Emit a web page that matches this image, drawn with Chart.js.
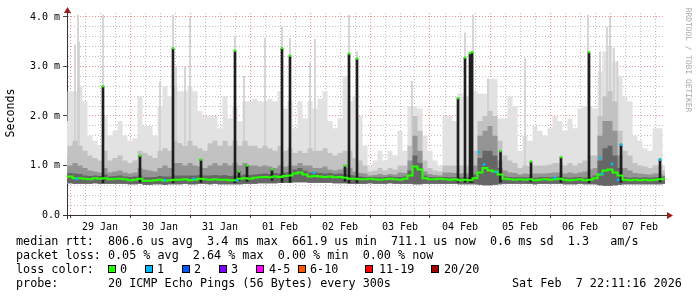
<!DOCTYPE html>
<html>
<head>
<meta charset="utf-8">
<script src="https://cdn.jsdelivr.net/npm/chart.js@4.4.1/dist/chart.umd.min.js"></script>
<style>
html,body{margin:0;padding:0;background:#fff;}
#wrap{position:relative;width:697px;height:297px;overflow:hidden;font-family:"DejaVu Sans Mono",monospace;}
#c{position:absolute;left:0;top:0;}
.t{position:absolute;white-space:pre;font-size:11.75px;line-height:14px;color:#000;}
.sq{position:absolute;width:6px;height:6px;border:1px solid #000;}
#ylab{position:absolute;left:-30px;top:106px;width:80px;height:14px;text-align:center;transform:rotate(-90deg);font-size:11.6px;}
#wm{position:absolute;left:633px;top:55px;width:110px;height:10px;line-height:10px;text-align:center;font-size:7.9px;color:#aaa;transform:rotate(90deg);white-space:pre;}
</style>
</head>
<body>
<div id="wrap">
<canvas id="c" width="697" height="297"></canvas>
<div id="ylab" class="t">Seconds</div>
<div id="wm">RRDTOOL / TOBI OETIKER</div>
<div class="t" style="left:16px;top:234px">median rtt:  806.6 us avg  3.4 ms max  661.9 us min  711.1 us now  0.6 ms sd  1.3   am/s</div>
<div class="t" style="left:16px;top:248px">packet loss: 0.05 % avg  2.64 % max  0.00 % min  0.00 % now</div>
<div class="t" style="left:16px;top:262px">loss color:</div>
<div id="lossLegend"></div>
<div class="t" style="left:16px;top:276px">probe:       20 ICMP Echo Pings (56 Bytes) every 300s</div>
<div class="t" style="left:512px;top:276px">Sat Feb  7 22:11:16 2026</div>
</div>
<script>
// ---- time axis: hours since 29 Jan 00:00 ----
const START_HOUR = -2, STEP_HOURS = 2;          // smoke samples every 2 h
const X_MIN_HOUR = -1.2, X_MAX_HOUR = 238;       // visible range
const Y_MAX = 4.08;                              // ms at top of plot
const dayLabels = ['29 Jan','30 Jan','31 Jan','01 Feb','02 Feb','03 Feb','04 Feb','05 Feb','06 Feb','07 Feb'];
const yTickLabels = ['0.0','1.0 m','2.0 m','3.0 m','4.0 m'];

// ---- loss legend ----
const lossLabels = ['0','1','2','3','4-5','6-10','11-19','20/20'];
const lossColors = ['#26ff00','#00b8ff','#0059ff','#7e00ff','#ff00ff','#ff5500','#ff0000','#a10000'];

// ---- smoke (ms), one value per 2 h sample ----
const pingMin = [
0.64,0.64,0.63,0.63,0.63,0.63,0.64,0.63,0.63,0.63,
0.63,0.63,0.63,0.62,0.62,0.63,0.61,0.61,0.62,0.62,
0.61,0.62,0.62,0.62,0.63,0.62,0.62,0.63,0.63,0.62,
0.63,0.62,0.62,0.62,0.62,0.62,0.63,0.63,0.63,0.64,
0.64,0.64,0.64,0.65,0.65,0.65,0.66,0.66,0.66,0.65,
0.65,0.65,0.65,0.65,0.64,0.64,0.64,0.63,0.63,0.63,
0.63,0.64,0.63,0.63,0.63,0.64,0.63,0.63,0.63,0.63,
0.62,0.62,0.63,0.63,0.63,0.63,0.63,0.63,0.63,0.62,
0.62,0.62,0.62,0.61,0.60,0.60,0.61,0.62,0.63,0.63,
0.63,0.63,0.63,0.63,0.62,0.63,0.63,0.63,0.63,0.63,
0.62,0.62,0.62,0.63,0.62,0.62,0.62,0.60,0.59,0.59,
0.60,0.61,0.62,0.62,0.62,0.62,0.62,0.62,0.62,0.62,
0.63];
const smokeMax = [
1.9,2.5,2.5,2.6,2.3,1.6,1.5,1.4,2.0,1.6,
1.7,1.9,1.6,1.5,1.55,2.4,1.8,1.8,1.6,2.2,
2.6,2.4,2.6,2.5,2.5,2.6,2.5,2.1,2.0,2.0,
2.0,1.75,2.4,1.95,2.2,1.9,2.3,2.3,2.35,2.3,
2.3,2.35,2.3,2.5,2.15,2.3,1.75,2.3,1.95,2.3,
2.15,2.35,2.5,1.9,1.75,1.95,2.8,2.3,2.4,2.0,
1.4,1.0,1.1,1.3,1.1,1.3,1.2,1.7,1.3,2.2,
2.2,2.15,1.6,1.3,1.1,1.0,2.0,2.0,1.9,2.46,
2.4,2.4,2.5,2.45,2.45,2.75,2.75,1.95,1.95,2.4,
2.2,1.3,1.6,1.5,1.8,1.7,1.6,1.75,2.0,1.9,
1.7,1.95,1.75,2.15,2.2,2.2,2.15,2.9,3.3,3.4,
3.1,2.8,2.4,2.3,1.6,1.5,1.35,1.3,1.75,1.75,
1.0];
const smokeMid = [
1.20,1.40,1.50,1.40,1.30,1.20,1.15,1.10,1.30,1.10,
1.15,1.20,1.10,1.05,1.10,1.30,1.25,1.20,1.15,1.30,
1.35,1.30,1.50,1.45,1.40,1.50,1.40,1.35,1.30,1.45,
1.50,1.40,1.50,1.40,1.50,1.40,1.50,1.40,1.40,1.35,
1.40,1.35,1.30,1.40,1.30,1.35,1.25,1.30,1.25,1.35,
1.30,1.30,1.35,1.25,1.20,1.25,1.30,1.30,1.15,1.10,
1.00,0.88,0.90,0.95,0.90,0.95,0.92,1.00,1.00,1.40,
2.00,1.70,1.10,0.95,0.90,0.88,1.00,1.00,1.00,1.00,
1.00,1.00,1.30,1.90,2.00,2.10,2.00,1.50,1.20,1.10,
1.05,0.95,1.00,0.98,1.00,1.00,1.00,1.02,1.05,1.05,
1.00,1.05,1.00,1.05,1.10,1.20,1.20,2.00,2.40,2.50,
2.30,1.70,1.30,1.20,1.05,1.00,0.98,0.95,1.00,1.00,
0.90];
const smokeDark = [
0.92,1.00,1.05,1.00,0.95,0.90,0.88,0.86,0.95,0.86,
0.88,0.90,0.86,0.84,0.86,0.95,0.92,0.90,0.88,0.95,
1.00,0.95,1.05,1.05,1.00,1.05,1.00,0.98,0.95,1.00,
1.05,1.00,1.05,1.00,1.05,1.00,1.05,1.00,1.00,0.98,
1.00,0.98,0.95,1.00,0.98,1.00,1.00,1.05,1.00,1.00,
0.95,0.95,0.98,0.92,0.90,0.92,0.95,0.95,0.88,0.85,
0.84,0.80,0.81,0.83,0.81,0.83,0.82,0.86,0.85,1.10,
1.60,1.30,0.88,0.83,0.81,0.80,0.86,0.86,0.85,0.84,
0.85,0.84,1.00,1.60,1.70,1.80,1.60,1.10,0.90,0.86,
0.85,0.82,0.84,0.83,0.84,0.84,0.84,0.85,0.86,0.86,
0.84,0.86,0.84,0.86,0.88,0.92,0.95,1.60,1.90,1.90,
1.70,1.20,0.95,0.90,0.85,0.84,0.83,0.82,0.84,0.84,
0.80];
const smokeCore = [
0.82,0.85,0.84,0.83,0.80,0.79,0.80,0.79,0.82,0.78,
0.79,0.80,0.78,0.77,0.78,0.80,0.76,0.76,0.77,0.79,
0.78,0.78,0.80,0.80,0.80,0.80,0.80,0.81,0.80,0.80,
0.81,0.80,0.81,0.79,0.80,0.80,0.82,0.81,0.82,0.83,
0.84,0.83,0.85,0.84,0.86,0.87,0.92,0.95,0.90,0.86,
0.86,0.85,0.84,0.85,0.83,0.84,0.83,0.81,0.80,0.78,
0.77,0.77,0.77,0.76,0.77,0.78,0.77,0.77,0.78,0.90,
1.20,1.05,0.80,0.77,0.76,0.77,0.77,0.76,0.77,0.76,
0.77,0.76,0.82,1.15,1.30,1.30,1.20,0.95,0.78,0.77,
0.76,0.77,0.76,0.77,0.75,0.76,0.77,0.76,0.77,0.78,
0.76,0.75,0.76,0.77,0.75,0.77,0.80,1.10,1.35,1.40,
1.20,0.95,0.77,0.75,0.76,0.75,0.76,0.75,0.76,0.77,
0.78];
// ---- median rtt (ms) ----
const medianRtt = [
0.76,0.78,0.74,0.74,0.73,0.72,0.74,0.73,0.74,0.72,
0.73,0.73,0.72,0.70,0.71,0.73,0.69,0.69,0.70,0.71,
0.69,0.70,0.71,0.71,0.72,0.70,0.71,0.73,0.72,0.71,
0.72,0.71,0.71,0.70,0.70,0.73,0.74,0.73,0.75,0.76,
0.77,0.76,0.78,0.77,0.79,0.80,0.84,0.86,0.82,0.78,
0.79,0.78,0.77,0.78,0.76,0.77,0.75,0.73,0.73,0.72,
0.72,0.73,0.72,0.71,0.72,0.73,0.72,0.71,0.73,0.80,
0.98,0.92,0.74,0.72,0.72,0.73,0.72,0.71,0.72,0.70,
0.71,0.70,0.74,0.86,0.95,0.90,0.88,0.82,0.73,0.72,
0.71,0.72,0.71,0.72,0.70,0.71,0.72,0.71,0.72,0.73,
0.71,0.70,0.71,0.72,0.70,0.71,0.74,0.82,0.90,0.92,
0.86,0.80,0.71,0.70,0.71,0.70,0.71,0.70,0.71,0.72,
0.73];
// ---- thin high-ping streaks ----
const thinHours = [2.0,3.2,3.6,13.2,36,41.2,42.4,46,48,66,69.6,78,84.8,88,96,98,111.6,114.8,136.8,158,161.2,167.2,182,207.2,212,214.8,216,217.6,219];
const thinTops  = [3.43,4.04,3.5,4.04,2.7,4.04,3.0,3.0,4.0,3.6,2.8,3.57,3.8,3.57,3.07,3.55,4.04,3.3,2.7,3.68,4.04,2.75,3.17,4.04,3.3,3.8,4.0,3.37,3.1];
const thinBottoms = [0.9,0.9,0.9,0.9,0.9,0.9,0.9,0.9,0.9,0.9,0.9,0.9,0.9,0.9,0.9,0.9,0.9,0.9,0.9,0.9,0.9,0.9,0.9,0.9,0.9,0.9,0.9,0.9,0.9];
// ---- dense spikes (black) ----
const spikeHours   = [13.2,28,41.2,52.4,66,67.6,70.8,80.8,84.8,88,110,111.6,114.8,155.2,158,160,160.8,172.2,184.4,196.4,207.6,220.4,236];
const spikeTops    = [2.60,1.20,3.37,1.12,3.32,0.88,1.00,0.92,3.37,3.22,1.00,3.26,3.16,2.36,3.18,3.27,3.29,1.29,1.08,1.17,3.29,1.42,1.12];
const spikeBottoms = [0.65,0.66,0.65,0.66,0.65,0.70,0.68,0.70,0.66,0.66,0.68,0.65,0.65,0.66,0.66,0.66,0.66,0.66,0.67,0.66,0.65,0.66,0.67];
// ---- median samples with 1 lost ping ----
const loss1Hours = [2.8,38,49.6,66.8,97.6,163.6,165.6,170.4,194,212,212.8,216.8,219.2,220.4,236];
const loss1Rtt   = [0.73,0.70,0.73,0.70,0.85,1.27,1.02,0.87,0.75,1.15,0.83,1.03,0.71,1.42,1.12];

// ---- build ----
const hourAt = i => START_HOUR + STEP_HOURS * i;
const pts = arr => arr.map((v, i) => ({x: hourAt(i), y: v}));
const ranges = (hs, lo, hi) => hs.map((h, i) => ({x: h, y: [lo[i], hi[i]]}));
const xyPts = (hs, vs) => hs.map((h, i) => ({x: h, y: vs[i]}));
const xGridHours = []; for (let h = 0; h <= 234; h += 6) xGridHours.push(h);
const yGridVals = []; for (let k = 0; k <= 20; k++) yGridVals.push(k / 5);
const isMajorY = v => Math.abs(v - Math.round(v)) < 1e-6;
const isMajorX = v => v % 24 === 0;

// legend boxes
const boxX = [108,145,182,219,256,298,365,431];
const labX = [120,157,194,231,269,310,379,444];
const ll = document.getElementById('lossLegend');
lossLabels.forEach((lab, i) => {
  const s = document.createElement('div'); s.className = 'sq';
  s.style.left = boxX[i] + 'px'; s.style.top = '265px'; s.style.background = lossColors[i];
  ll.appendChild(s);
  const t = document.createElement('div'); t.className = 't';
  t.style.left = labX[i] + 'px'; t.style.top = '262px'; t.textContent = lab;
  ll.appendChild(t);
});

const smoke = {type:'line', stepped:'middle', pointRadius:0, borderWidth:0, fill:0, tension:0};
const axisArrows = {
  id: 'axisArrows',
  afterDraw(chart) {
    const {ctx, chartArea: a} = chart;
    const lx = Math.round(a.left - 0.5) + 0.5, by = Math.round(a.bottom - 0.5) + 0.5;
    ctx.save();
    ctx.strokeStyle = '#333'; ctx.lineWidth = 1;
    ctx.beginPath();
    ctx.moveTo(lx, a.top + 1); ctx.lineTo(lx, a.top - 3);
    ctx.moveTo(lx, a.bottom); ctx.lineTo(lx, a.bottom + 4);
    ctx.moveTo(a.left - 4, by); ctx.lineTo(a.left, by);
    ctx.moveTo(a.right - 1, by); ctx.lineTo(a.right + 3, by);
    ctx.stroke();
    ctx.fillStyle = '#9b1c1c';
    ctx.beginPath(); ctx.moveTo(lx, a.top - 6); ctx.lineTo(lx - 3.5, a.top); ctx.lineTo(lx + 3.5, a.top); ctx.closePath(); ctx.fill();
    ctx.beginPath(); ctx.moveTo(a.right + 8, by); ctx.lineTo(a.right + 2, by - 3.5); ctx.lineTo(a.right + 2, by + 3.5); ctx.closePath(); ctx.fill();
    ctx.restore();
  }
};

const tickFont = {family: 'DejaVu Sans Mono', size: 10};
new Chart(document.getElementById('c'), {
  type: 'line',
  data: {
    datasets: [
      {label:'floor', data: pts(pingMin), type:'line', stepped:'middle', pointRadius:0, borderWidth:0, fill:false, order: 20},
      {...smoke, data: pts(smokeMax), backgroundColor:'#e2e2e2', order: 19},
      {type:'bar', data: ranges(thinHours, thinBottoms, thinTops), backgroundColor:'#cfcfcf', barThickness:1, borderWidth:0, stack:'marks', order: 18},
      {...smoke, data: pts(smokeMid), backgroundColor:'#c2c2c2', order: 17},
      {...smoke, data: pts(smokeDark), backgroundColor:'#949494', order: 16},
      {...smoke, data: pts(smokeCore), backgroundColor:'#666666', order: 15},
      {type:'bar', data: ranges(spikeHours, spikeBottoms, spikeTops), backgroundColor:'#1e1e1e', barThickness:2, borderWidth:0, stack:'marks', order: 14},
      {type:'line', data: pts(medianRtt), borderColor:'#26ff00', borderWidth:2, stepped:'middle', pointRadius:0, fill:false, order: 13},
      {type:'line', showLine:false, data: xyPts(spikeHours, spikeTops), pointStyle:'rect', pointRadius:1.6, backgroundColor:'#26ff00', borderWidth:0, order: 12},
      {type:'line', showLine:false, data: xyPts(loss1Hours, loss1Rtt), pointStyle:'rect', pointRadius:1.8, backgroundColor:'#00b8ff', borderWidth:0, order: 11}
    ]
  },
  options: {
    responsive: false, animation: false, devicePixelRatio: 1,
    layout: {padding: {left: 0, right: 32, top: 13, bottom: 60}},
    plugins: {legend: {display: false}, tooltip: {enabled: false}},
    scales: {
      x: {
        type: 'linear', min: X_MIN_HOUR, max: X_MAX_HOUR, offset: false, z: 1,
        afterBuildTicks: ax => { ax.ticks = xGridHours.map(v => ({value: v})); },
        afterFit: ax => { ax.height = 22; },
        grid: {offset: false, lineWidth: 1, drawTicks: true, tickLength: 3, tickBorderDash: [],
          color: c => isMajorX(c.tick.value) ? 'rgba(232,120,120,0.8)' : 'rgba(175,175,175,0.8)',
          tickColor: c => isMajorX(c.tick.value) ? '#444' : 'rgba(0,0,0,0)'},
        border: {display: true, color: '#333', width: 1, dash: [1, 2]},
        ticks: {autoSkip: false, maxRotation: 0, minRotation: 0, padding: 3, color: '#000', font: tickFont,
          callback: v => (v % 24 === 12) ? dayLabels[(v - 12) / 24] : ''}
      },
      y: {
        type: 'linear', min: 0, max: Y_MAX, stacked: false, z: 1,
        afterBuildTicks: ax => { ax.ticks = yGridVals.map(v => ({value: v})); },
        afterFit: ax => { ax.width = 67; },
        grid: {lineWidth: 1, drawTicks: true, tickLength: 4, tickBorderDash: [],
          color: c => isMajorY(c.tick.value) ? 'rgba(232,120,120,0.8)' : 'rgba(175,175,175,0.8)',
          tickColor: c => isMajorY(c.tick.value) ? '#444' : 'rgba(0,0,0,0)'},
        border: {display: true, color: '#333', width: 1, dash: [1, 2]},
        ticks: {autoSkip: false, padding: 3, color: '#000', font: tickFont,
          callback: v => isMajorY(v) ? yTickLabels[Math.round(v)] : ''}
      }
    }
  },
  plugins: [axisArrows]
});
</script>
</body>
</html>
